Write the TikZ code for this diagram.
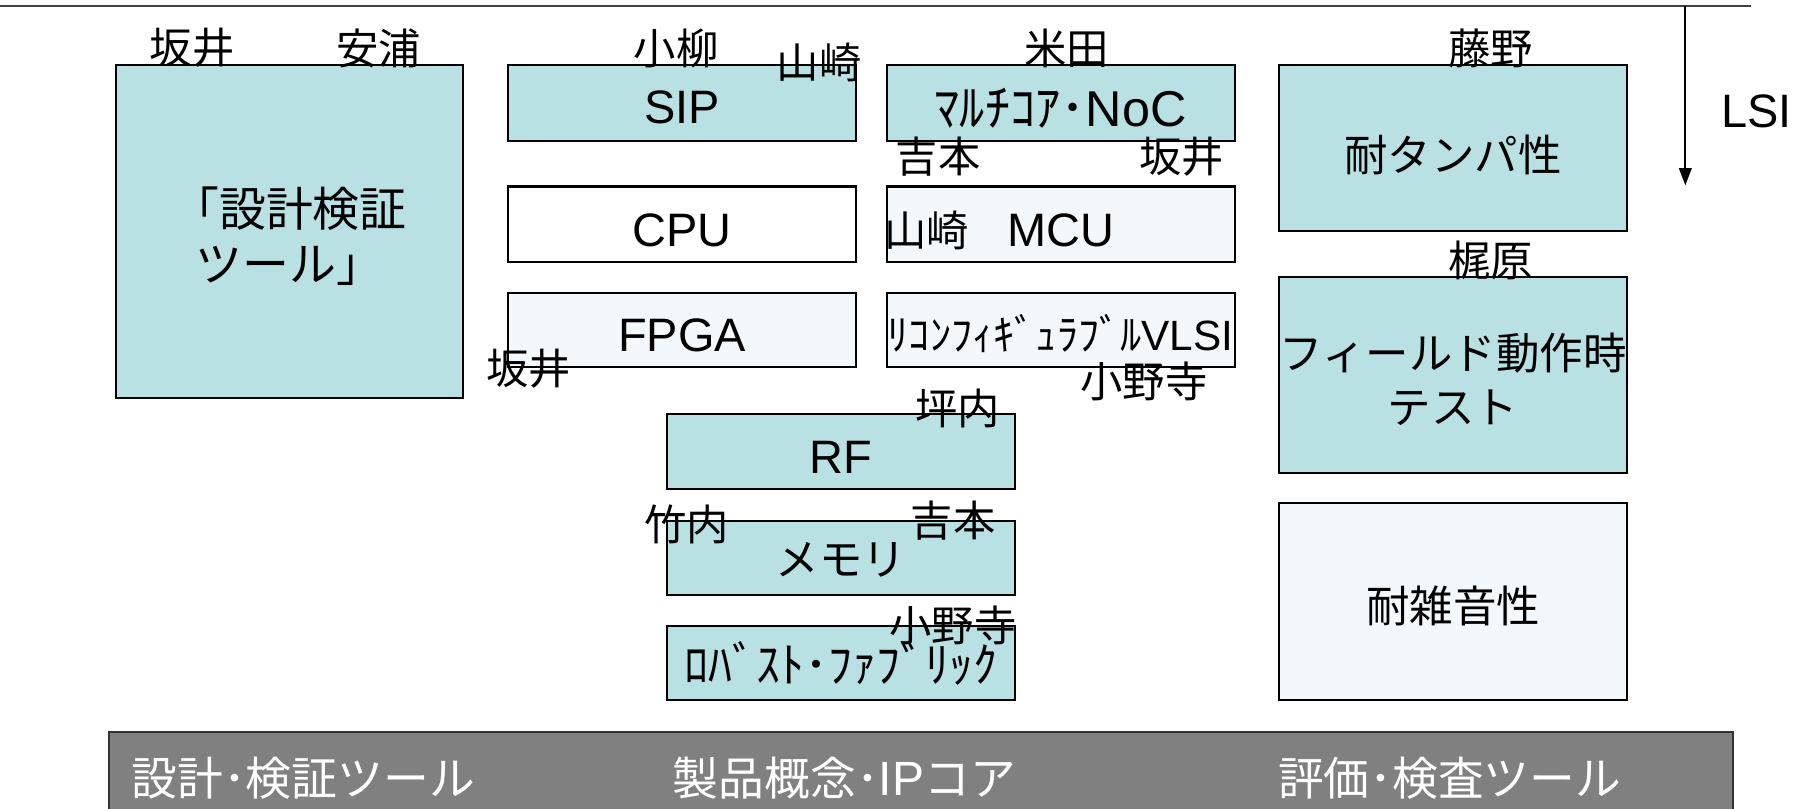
\documentclass[tikz,border=0pt]{standalone}
\usepackage{fontspec}
\setmainfont{Liberation Sans}
\newfontfamily\jp{Noto Sans CJK JP}
\usetikzlibrary{arrows.meta}
\definecolor{boxblue}{RGB}{185,224,227}
\definecolor{boxpale}{RGB}{242,248,252}
\definecolor{bargray}{RGB}{128,128,128}

\begin{document}
\begin{tikzpicture}[x=1pt,y=-1pt,
  box/.style={draw=black,line width=1.8pt,inner sep=0pt,minimum width=304pt,minimum height=66pt},
  bluebox/.style={box,fill=boxblue},
  palebox/.style={box,fill=boxpale},
  whitebox/.style={box,fill=white},
  lat/.style={font=\fontsize{41}{48}\selectfont,yshift=-5pt},
  jpt/.style={font=\jp\fontsize{38}{48}\selectfont,yshift=-4pt},
  who/.style={font=\jp\fontsize{37}{40}\selectfont,inner sep=0pt},
  bartext/.style={font=\jp\fontsize{40}{44}\selectfont,text=white}]
\useasboundingbox (0,0) rectangle (1568,707);

% top rule and LSI arrow
\coordinate (ruleL) at (0,5);
\coordinate (ruleR) at (1530,5);
\draw[line width=1.8pt,black!75] (ruleL) -- (ruleR);
\coordinate (lsitop) at (1473,5);
\coordinate (lsibot) at (1473,162);
\draw[line width=1.5pt,-{Triangle[width=11pt,length=15pt]}] (lsitop) -- (lsibot);
\node[font=\fontsize{41}{48}\selectfont] (lsi) at (1535,97) {LSI};

% design tools column
\node[bluebox,minimum height=291pt,label={[jpt,font=\jp\fontsize{41}{48}\selectfont,align=center]center:「設計検証\\ツール」}] (tool) at (253,202.5) {};
\node[who] (sakai1) at (168,42) {坂井};
\node[who] (yasuura) at (331,42) {安浦};

% IP cores, left column
\node[bluebox,label={[lat,yshift=1pt]center:SIP}] (sip) at (596,90) {};
\node[whitebox,label={[lat]center:CPU}] (cpu) at (596,196) {};
\node[palebox,minimum height=65pt,label={[lat]center:FPGA}] (fpga) at (596,288.5) {};
\node[who] (koyanagi) at (591,42) {小柳};
\node[who] (yamasaki1) at (716,55) {山崎};
\node[who] (sakai2) at (462,322) {坂井};

% IP cores, right column
\node[bluebox,label={[lat,font=\fontsize{44}{48}\selectfont]center:{\jp ﾏﾙﾁｺｱ･}NoC}] (noc) at (927,90) {};
\node[palebox,label={[lat]center:MCU}] (mcu) at (927,196) {};
\node[palebox,minimum height=65pt,label={[lat,yshift=2pt,font=\fontsize{37}{44}\selectfont]center:{\jp ﾘｺﾝﾌｨｷﾞｭﾗﾌﾞﾙ}VLSI}] (vlsi) at (927,288.5) {};
\node[who] (yoneda) at (932,42) {米田};
\node[who] (yoshimoto1) at (820,137) {吉本};
\node[who] (sakai3) at (1033,137) {坂井};
\node[who] (yamasaki2) at (810,201) {山崎};
\node[who] (onodera1) at (1000,333) {小野寺};

% IP cores, lower column
\node[bluebox,minimum height=65pt,label={[lat]center:RF}] (rf) at (735,394.5) {};
\node[bluebox,minimum height=65pt,label={[jpt,yshift=2pt]center:メモリ}] (mem) at (735,487.5) {};
\node[bluebox,minimum height=65pt,label={[jpt,yshift=4pt,font=\jp\fontsize{42}{48}\selectfont]center:ﾛﾊﾞｽﾄ･ﾌｧﾌﾞﾘｯｸ}] (robust) at (735,579.5) {};
\node[who] (tsubouchi) at (837,357) {坪内};
\node[who] (takeuchi) at (600,458) {竹内};
\node[who] (yoshimoto2) at (833,455) {吉本};
\node[who] (onodera2) at (833,547) {小野寺};

% test tools column
\node[bluebox,minimum height=145pt,label={[jpt,yshift=-2pt]center:耐タンパ性}] (tamper) at (1270,129.5) {};
\node[bluebox,minimum height=171pt,label={[jpt,align=center]center:フィールド動作時\\テスト}] (field) at (1270,327.5) {};
\node[palebox,minimum height=172pt,label={[jpt]center:耐雑音性}] (noise) at (1270,526) {};
\node[who] (fujino) at (1303,42) {藤野};
\node[who] (kajiwara) at (1303,228) {梶原};

% category bar
\node[draw=black!80,line width=1.8pt,fill=bargray,minimum width=1420pt,minimum height=80pt] (bar) at (805,680) {};
\node[bartext] (cat1) at (265,680) {設計･検証ツール};
\node[bartext] (cat2) at (738,680) {製品概念･{\fontsize{42}{44}\selectfont\rmfamily IP}コア};
\node[bartext] (cat3) at (1267,680) {評価･検査ツール};
\end{tikzpicture}
\end{document}
